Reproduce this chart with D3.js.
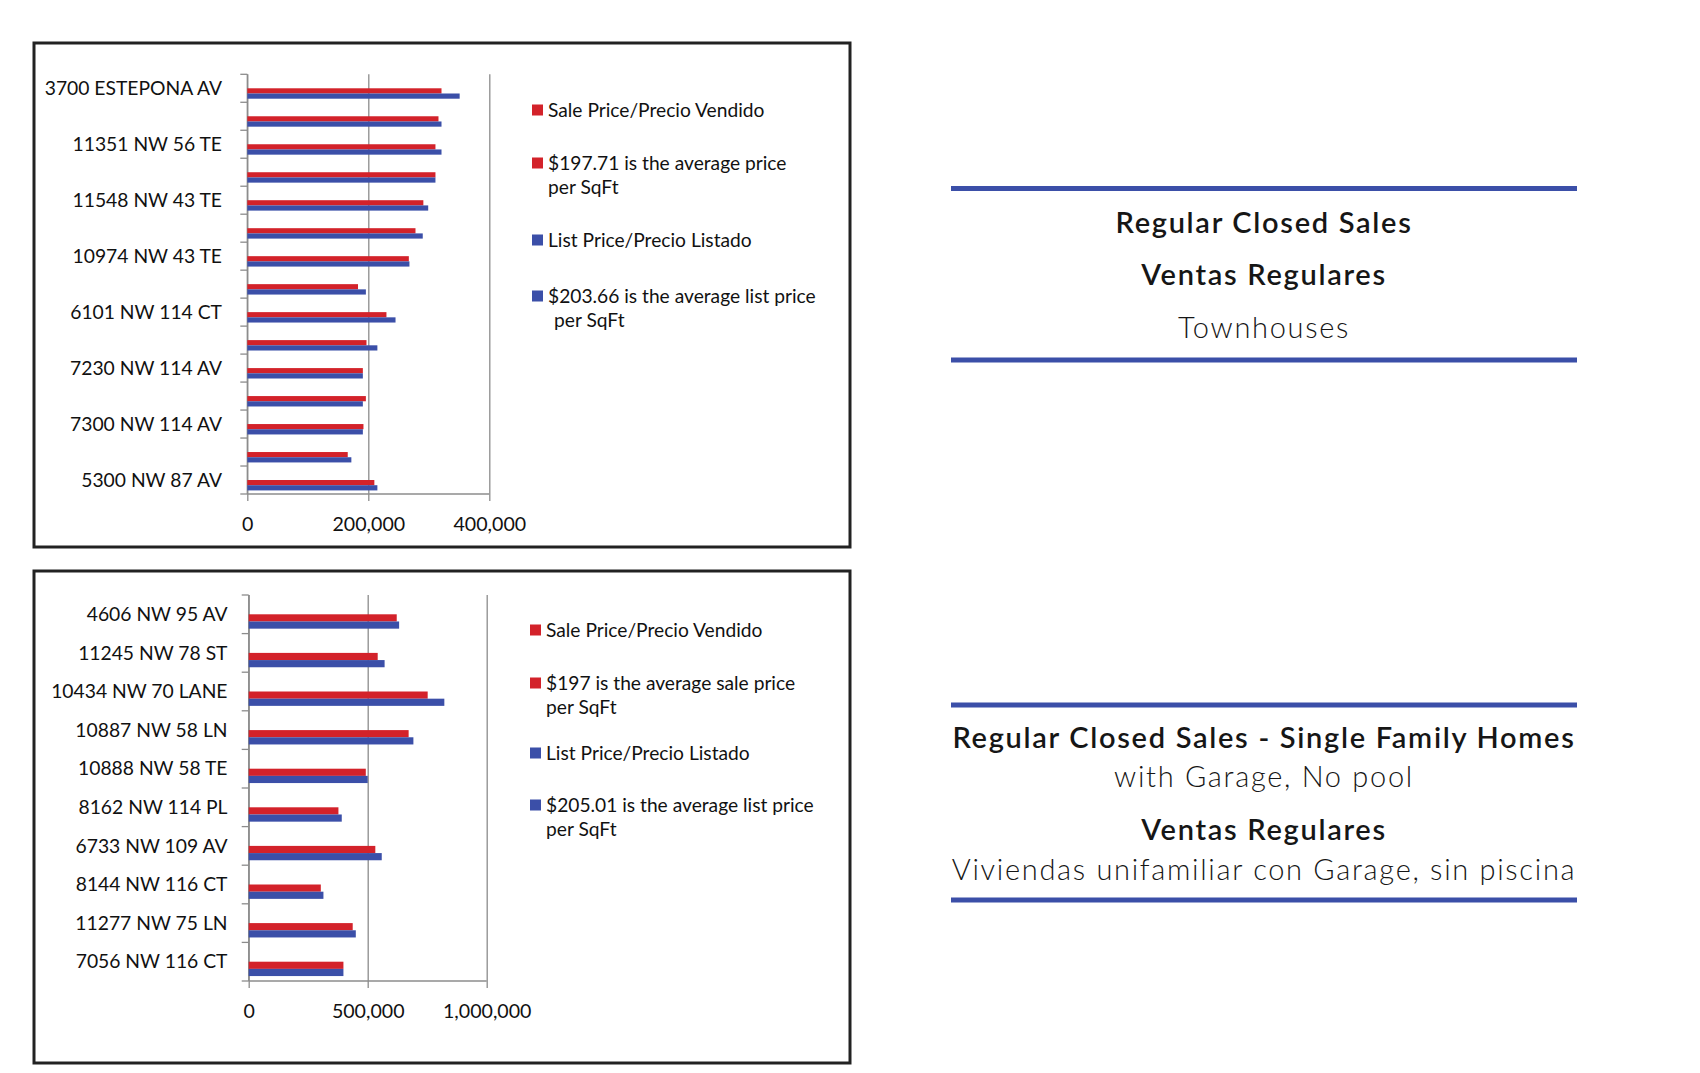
<!DOCTYPE html>
<html>
<head>
<meta charset="utf-8">
<script src="https://cdn.jsdelivr.net/npm/d3@7"></script>
<style>
  html, body { margin: 0; padding: 0; background: #fff; }
  svg { display: block; }
</style>
</head>
<body>
<svg id="chart" width="1700" height="1073"></svg>
<script>
// ---------- DATA ----------
const townLabels = ["3700 ESTEPONA AV", "", "11351 NW 56 TE", "", "11548 NW 43 TE", "", "10974 NW 43 TE", "",
                    "6101 NW 114 CT", "", "7230 NW 114 AV", "", "7300 NW 114 AV", "", "5300 NW 87 AV"];
const townSale = [321000, 316000, 311000, 311000, 291000, 278000, 267000, 183000, 230000, 197000, 191000, 196000, 192000, 166000, 210000];
const townList = [351000, 321000, 321000, 311000, 299000, 290000, 268000, 196000, 245000, 215000, 191000, 191000, 191000, 172000, 215000];
const townTicks = [0, 200000, 400000];
const townLegend = [
  {text: ["Sale Price/Precio Vendido"], series: "sale"},
  {text: ["$197.71 is the average price", "per SqFt"], series: "sale"},
  {text: ["List Price/Precio Listado"], series: "list"},
  {text: ["$203.66 is the average list price", " per SqFt"], series: "list"}
];

const sfhLabels = ["4606 NW 95 AV", "11245 NW 78 ST", "10434 NW 70 LANE", "10887 NW 58 LN", "10888 NW 58 TE",
                   "8162 NW 114 PL", "6733 NW 109 AV", "8144 NW 116 CT", "11277 NW 75 LN", "7056 NW 116 CT"];
const sfhSale = [622000, 542000, 752000, 672000, 492000, 377000, 532000, 303000, 437000, 398000];
const sfhList = [632000, 571000, 822000, 692000, 500000, 391000, 559000, 314000, 450000, 398000];
const sfhTicks = [0, 500000, 1000000];
const sfhLegend = [
  {text: ["Sale Price/Precio Vendido"], series: "sale"},
  {text: ["$197 is the average sale price", "per SqFt"], series: "sale"},
  {text: ["List Price/Precio Listado"], series: "list"},
  {text: ["$205.01 is the average list price", "per SqFt"], series: "list"}
];

const topTitle = [
  {text: "Regular Closed Sales", weight: 600},
  {text: "Ventas Regulares", weight: 600},
  {text: "Townhouses", weight: 300}
];
const bottomTitle = [
  {text: "Regular Closed Sales - Single Family Homes", weight: 600},
  {text: "with Garage, No pool", weight: 300},
  {text: "Ventas Regulares", weight: 600},
  {text: "Viviendas unifamiliar con Garage, sin piscina", weight: 300}
];

// ---------- STYLE ----------
const RED = "#d3222a";
const BLUE = "#3b4fa8";
const GRID = "#8c8c8c";
const FONT = "Lato, 'Open Sans', sans-serif";
const colorOf = {sale: RED, list: BLUE};

const svg = d3.select("#chart");
svg.append("rect").attr("width", 1700).attr("height", 1073).attr("fill", "#fff");

function drawPanel(cfg) {
  const g = svg.append("g");
  // frame
  g.append("rect")
    .attr("x", cfg.box[0]).attr("y", cfg.box[1])
    .attr("width", cfg.box[2] - cfg.box[0]).attr("height", cfg.box[3] - cfg.box[1])
    .attr("fill", "none").attr("stroke", "#222").attr("stroke-width", 3);

  const idx = d3.range(cfg.labels.length);
  const x = d3.scaleLinear().domain(cfg.domain).range(cfg.xRange);
  const y = d3.scaleBand().domain(idx).range(cfg.yRange).paddingInner(0).paddingOuter(0);
  const bw = y.bandwidth();
  const bh = bw * 0.186;

  // gridlines (value axis)
  const grid = g.append("g").attr("transform", `translate(0,${cfg.yRange[1]})`)
    .call(d3.axisBottom(x).tickValues(cfg.ticks).tickSize(-(cfg.yRange[1] - cfg.yRange[0])).tickFormat(""));
  grid.select(".domain").remove();
  grid.selectAll(".tick line").attr("stroke", GRID).attr("stroke-width", 1.3);

  // bottom value axis
  const xa = g.append("g").attr("transform", `translate(0,${cfg.yRange[1]})`)
    .call(d3.axisBottom(x).tickValues(cfg.ticks).tickSize(7).tickPadding(16).tickFormat(d3.format(",")));
  xa.select(".domain").attr("stroke", GRID).attr("stroke-width", 1.3).attr("d", `M${cfg.xRange[0]},0H${cfg.xRange[1]}`);
  xa.selectAll(".tick line").attr("stroke", GRID).attr("stroke-width", 1.3);
  xa.selectAll(".tick text").attr("font-family", FONT).attr("font-size", 19.6).attr("fill", "#111");

  // category axis line + boundary ticks
  g.append("line").attr("x1", cfg.xRange[0]).attr("x2", cfg.xRange[0])
    .attr("y1", cfg.yRange[0]).attr("y2", cfg.yRange[1]).attr("stroke", GRID).attr("stroke-width", 1.3);
  const bounds = idx.map(i => y(i)).concat([y(idx[idx.length - 1]) + bw]);
  g.selectAll(".ctick").data(bounds).join("line")
    .attr("x1", cfg.xRange[0] - 7).attr("x2", cfg.xRange[0])
    .attr("y1", d => d).attr("y2", d => d)
    .attr("stroke", GRID).attr("stroke-width", 1.3);

  // category labels
  const ya = g.append("g").attr("transform", `translate(${cfg.labelX},0)`)
    .call(d3.axisLeft(y).tickSize(0).tickPadding(0).tickFormat(i => cfg.labels[i]));
  ya.select(".domain").remove();
  ya.selectAll(".tick text").attr("font-family", FONT).attr("font-size", 19.3).attr("fill", "#111").attr("dy", "0.35em");

  // bars
  g.selectAll(".sale").data(cfg.sale).join("rect")
    .attr("x", x(0)).attr("y", (d, i) => y(i) + bw / 2)
    .attr("width", d => x(d) - x(0)).attr("height", bh).attr("fill", RED);
  g.selectAll(".list").data(cfg.list).join("rect")
    .attr("x", x(0)).attr("y", (d, i) => y(i) + bw / 2 + bh)
    .attr("width", d => x(d) - x(0)).attr("height", bh).attr("fill", BLUE);

  // legend
  cfg.legend.forEach((item, k) => {
    const cy = cfg.legendY[k];
    g.append("rect").attr("x", cfg.legendX).attr("y", cy - 5.5).attr("width", 11).attr("height", 11)
      .attr("fill", colorOf[item.series]);
    item.text.forEach((t, j) => {
      g.append("text").attr("x", cfg.legendX + 16 + (t.startsWith(" ") ? 6 : 0)).attr("y", cy + j * 24.5)
        .attr("dy", "0.35em").attr("font-family", FONT).attr("font-size", 19.2).attr("fill", "#111")
        .text(t.trim());
    });
  });
}

drawPanel({
  box: [34, 43, 850, 547],
  labels: townLabels, sale: townSale, list: townList, ticks: townTicks,
  domain: [0, 400000], xRange: [247.3, 489.3], yRange: [74.3, 494],
  labelX: 222, legend: townLegend, legendX: 532, legendY: [110, 163, 240, 296]
});

drawPanel({
  box: [34, 571, 850, 1063],
  labels: sfhLabels, sale: sfhSale, list: sfhList, ticks: sfhTicks,
  domain: [0, 1000000], xRange: [248.7, 486.7], yRange: [595, 981],
  labelX: 227.5, legend: sfhLegend, legendX: 530, legendY: [630, 683, 753, 805]
});

// right-hand titles
function drawTitle(lines, ys, lineYs) {
  const cx = 1264;
  lineYs.forEach(ly => {
    svg.append("line").attr("x1", 951).attr("x2", 1577).attr("y1", ly).attr("y2", ly)
      .attr("stroke", BLUE).attr("stroke-width", 5);
  });
  lines.forEach((l, i) => {
    svg.append("text").attr("x", cx).attr("y", ys[i]).attr("dy", "0.35em")
      .attr("text-anchor", "middle").attr("font-family", FONT).attr("font-weight", l.weight)
      .attr("font-size", 29).attr("letter-spacing", 1.7).attr("fill", "#161616").text(l.text);
  });
}
drawTitle(topTitle, [223, 275, 328], [188.5, 360]);
drawTitle(bottomTitle, [738, 777, 830, 870], [705, 900]);
</script>
</body>
</html>
